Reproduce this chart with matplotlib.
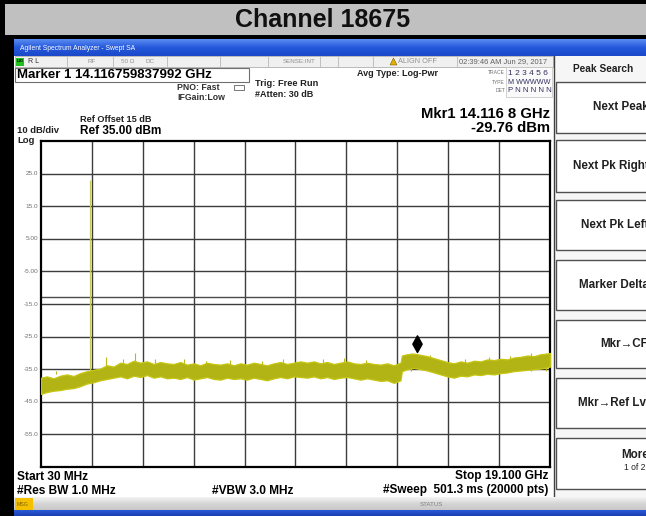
import numpy as np
import matplotlib
matplotlib.use("Agg")
import matplotlib.pyplot as plt
from matplotlib.patches import Rectangle, Polygon
from matplotlib.path import Path
from matplotlib.markers import MarkerStyle
from matplotlib.colors import LinearSegmentedColormap

plt.rcParams['font.family'] = ['Liberation Sans', 'DejaVu Sans']

# ---------------- sweep data ----------------
start_ghz = 0.03
stop_ghz = 19.1
ref_level = 35.0
db_per_div = 10.0
display_line = -13.0

freq_ghz = [0.03, 0.25, 0.50, 0.75, 1.00, 1.25, 1.50, 1.75, 2.00, 2.25,
            2.50, 2.75, 3.00, 3.25, 3.50, 3.75, 4.00, 4.25, 4.50, 4.75,
            5.00, 5.25, 5.50, 5.75, 6.00, 6.25, 6.50, 6.75, 7.00, 7.25,
            7.50, 7.75, 8.00, 8.25, 8.50, 8.75, 9.00, 9.25, 9.50, 9.75,
            10.00, 10.25, 10.50, 10.75, 11.00, 11.25, 11.50, 11.75, 12.00, 12.25,
            12.50, 12.75, 13.00, 13.25, 13.50, 13.55, 13.75, 14.00, 14.25, 14.50,
            14.75, 15.00, 15.25, 15.50, 15.75, 16.00, 16.25, 16.50, 16.75, 17.00,
            17.25, 17.50, 17.75, 18.00, 18.25, 18.50, 18.75, 19.00, 19.10]

trace_hi = [-37.6, -37.2, -37.8, -37.0, -36.6, -37.1, -36.2, -35.6, -35.2, -34.8,
            -33.8, -34.2, -33.0, -33.4, -32.4, -33.0, -32.6, -33.4, -32.8, -33.2,
            -33.4, -32.8, -33.6, -33.2, -33.8, -33.0, -33.4, -33.6, -33.2, -33.8,
            -33.2, -33.6, -33.0, -33.4, -33.8, -33.2, -32.8, -33.4, -33.0, -32.6,
            -33.0, -32.6, -33.2, -32.8, -33.4, -33.0, -32.6, -33.2, -33.4, -33.0,
            -33.4, -33.6, -33.2, -33.8, -33.0, -30.8, -30.4, -30.2, -30.6, -31.0,
            -31.6, -32.2, -32.8, -33.2, -32.6, -33.0, -32.4, -32.6, -32.0, -32.2,
            -31.8, -32.0, -31.4, -31.2, -30.8, -31.0, -30.4, -30.2, -30.0]

trace_lo = [-42.6, -42.0, -41.6, -41.4, -41.0, -40.8, -40.2, -39.4, -39.0, -38.4,
            -38.0, -37.6, -37.2, -37.8, -37.0, -37.4, -36.8, -37.6, -37.2, -37.8,
            -37.6, -38.0, -37.4, -38.2, -37.8, -37.4, -38.0, -38.2, -37.6, -38.0,
            -37.8, -38.2, -37.6, -38.0, -38.4, -37.8, -37.4, -37.8, -37.2, -37.4,
            -37.6, -37.2, -37.8, -37.4, -38.0, -37.6, -37.4, -37.8, -38.2, -37.8,
            -38.2, -38.6, -38.4, -39.2, -38.4, -35.6, -35.0, -34.6, -35.0, -35.4,
            -36.0, -36.6, -37.2, -37.6, -37.0, -37.2, -36.6, -36.8, -36.4, -36.6,
            -36.2, -36.0, -35.6, -35.4, -35.2, -35.0, -34.8, -34.4, -34.2]

spike_ghz = [0.60, 1.30, 2.45, 3.10, 3.55, 4.30, 5.40, 6.20, 7.10, 8.30,
             9.10, 10.60, 11.40, 12.20, 13.90, 14.60, 15.90, 16.80, 17.60, 18.40, 18.95]
spike_dbm = [-36.4, -35.6, -31.4, -32.0, -30.0, -31.8, -32.0, -32.4, -32.2, -32.4,
             -31.8, -31.8, -31.6, -32.2, -29.9, -30.6, -31.8, -31.2, -30.8, -30.0, -29.9]

carrier_ghz = 1.8575
carrier_dbm = 23.1

marker_ghz = 14.1168
marker_dbm = -29.76

y_labels = ["25.0", "15.0", "5.00", "-5.00", "-15.0", "-25.0", "-35.0", "-45.0", "-55.0"]

softkeys = ["Next Peak", "Next Pk Right", "Next Pk Left", "Marker Delta",
            "Mkr\u2192CF", "Mkr\u2192Ref Lvl"]

# ---------------- canvas in pixel units ----------------
W, H = 646, 516
fig = plt.figure(figsize=(W / 100, H / 100), dpi=100)
fig.patch.set_facecolor('white')
bg = fig.add_axes([0, 0, 1, 1])
bg.axis('off')


def rect(x0, y0, x1, y1, fc, ec='none', lw=0.0, z=1):
    bg.add_patch(Rectangle((x0, y0), x1 - x0, y1 - y0, facecolor=fc,
                           edgecolor=ec, linewidth=lw, zorder=z))


def txt(x, y, s, size, weight='bold', ha='left', color='black', z=5, **kw):
    bg.text(x, y, s, fontsize=size, fontweight=weight, ha=ha, va='center',
            color=color, zorder=z, **kw)


def gradient(x0, y0, x1, y1, colors, z=2):
    cm = LinearSegmentedColormap.from_list('g', colors)
    bg.imshow(np.linspace(0, 1, 32).reshape(-1, 1), cmap=cm, aspect='auto',
              extent=(x0, x1, y1, y0), origin='upper', zorder=z,
              interpolation='bilinear')


# outer frame and caption band
rect(0, 0, W, H, 'black', z=0)
rect(5, 4, W, 35, '#c0c0c0', z=1)
txt(323, 20, "Channel 18675", 18, ha='center', color='#101010')

# instrument screen
rect(14, 39, W, 512, 'white', z=1)
gradient(14, 39, W, 56, ['#5a8cf0', '#2458dc', '#1a48c8'])
txt(20, 48, "Agilent Spectrum Analyzer - Swept SA", 4.9, weight='normal', color='white')
gradient(14, 510, W, H, ['#2a5ad8', '#1a3fb0'])

# status row under the title bar
rect(15, 56, 553, 67, '#f0f0f0', ec='#b0b0b0', lw=0.6, z=2)
for xs in [67, 113, 167, 220, 268, 320, 338, 373, 457]:
    bg.plot([xs, xs], [56, 67], color='#b8b8b8', lw=0.6, zorder=3)
rect(16, 57.5, 24, 65.5, '#20c020', z=4)
txt(17, 61.5, "LXI", 3.2, color='black')
txt(28, 61.5, "R L", 5, weight='normal', color='#303030')
txt(88, 61.5, "RF", 4.5, weight='normal', color='#909090')
txt(121, 61.5, "50 \u03a9", 4.5, weight='normal', color='#909090')
txt(145, 61.5, "DC", 4.5, weight='normal', color='#909090')
txt(283, 61.5, "SENSE:INT", 4.5, weight='normal', color='#909090')
bg.add_patch(Polygon([[390, 65], [397, 65], [393.5, 58]], closed=True,
                     facecolor='#e0b000', edgecolor='#806000', lw=0.4, zorder=4))
txt(398, 61.5, "ALIGN OFF", 5.3, weight='normal', color='#909090')
txt(459, 61.5, "02:39:46 AM Jun 29, 2017", 5.4, weight='normal', color='#606060')

# marker readout box
rect(15, 68, 249, 82, 'white', ec='#707070', lw=0.8, z=2)
txt(17, 75.5, "Marker 1 14.116759837992 GHz", 9.5)

txt(177, 88, "PNO: Fast", 6.3, color='#303030')
txt(177, 97, "IFGain:Low", 6.3, color='#303030')
bg.add_patch(Rectangle((234, 85), 10, 5, facecolor='none', edgecolor='#606060',
                       lw=0.6, zorder=4))
txt(255, 84, "Trig: Free Run", 6.7, color='#202020')
txt(255, 94.5, "#Atten: 30 dB", 6.5, color='#202020')
txt(357, 73, "Avg Type: Log-Pwr", 6.5, color='#202020')

# trace table
rect(506, 67, 552, 97, '#fafafa', ec='#c0c0c0', lw=0.5, z=2)
txt(505, 73, "TRACE", 3.6, weight='normal', ha='right', color='#707070')
txt(505, 82, "TYPE", 3.6, weight='normal', ha='right', color='#707070')
txt(505, 91, "DET", 3.6, weight='normal', ha='right', color='#707070')
txt(508, 73.5, "1 2 3 4 5 6", 6.0, weight='normal', color='#303060')
txt(508, 82, "M WWWWW", 5.2, weight='normal', color='#303060')
txt(508, 91, "P N N N N N", 5.6, weight='normal', color='#303060')

txt(550, 114, "Mkr1 14.116 8 GHz", 10.7, ha='right')
txt(550, 128, "-29.76 dBm", 10.7, ha='right')

txt(80, 120, "Ref Offset 15 dB", 6.6, color='#202020')
txt(80, 131, "Ref 35.00 dBm", 8.5)
txt(17, 130.5, "10 dB/div", 6.8, color='#202020')
txt(17, 140.5, "Log", 6.8, color='#202020')

# softkey panel
bg.plot([553.5, 553.5], [56, 497], color='#404040', lw=1.0, zorder=3)
rect(554, 56, W, 497, '#f6f6f6', z=2)
txt(573, 69, "Peak Search", 7.3, color='#202020')
key_tops = [82, 140, 200, 260, 320, 378]
key_bots = [133, 192, 250, 310, 368, 428]
key_x = [593, 573, 581, 579, 600, 578]
for top, bot, label, kx in zip(key_tops, key_bots, softkeys, key_x):
    rect(556, top, W + 6, bot, 'white', ec='#505050', lw=1.0, z=3)
    txt(kx, (top + bot) / 2, label, 8.4, color='#202020')
rect(556, 438, W + 6, 489, 'white', ec='#505050', lw=1.0, z=3)
txt(621, 455, "More", 8.4, color='#202020')
txt(624, 468, "1 of 2", 6.2, weight='normal', color='#202020')

# bottom annotations and status bar
txt(17, 476.5, "Start 30 MHz", 8.6)
txt(17, 490.5, "#Res BW 1.0 MHz", 8.6)
txt(212, 490.5, "#VBW 3.0 MHz", 8.6)
txt(548, 476.5, "Stop 19.100 GHz", 8.6, ha='right')
txt(548, 490.5, "#Sweep  501.3 ms (20000 pts)", 8.5, ha='right')
gradient(14, 497, W, 510, ['#f4f4f4', '#d6d6d6', '#c8c8c8'], z=3)
rect(15, 498, 33, 510, '#f4c000', z=4)
txt(17, 504, "MSG", 3.8, weight='normal', color='#806000')
txt(431, 504, "STATUS", 4.4, weight='normal', color='#808080', ha='center')

# y-axis scale labels
top_px, bot_px = 141.0, 467.0
for i, lab in enumerate(y_labels, start=1):
    txt(38, top_px + i * (bot_px - top_px) / 10, lab, 4.6, weight='normal',
        ha='right', color='#707070')

bg.set_xlim(0, W)
bg.set_ylim(H, 0)

# ---------------- measurement graticule ----------------
ax = fig.add_axes([41 / W, (H - bot_px) / H, (550 - 41) / W, (bot_px - top_px) / H])
ax.set_facecolor('white')
ax.set_xlim(start_ghz, stop_ghz)
ax.set_ylim(ref_level - 10 * db_per_div, ref_level)
ax.set_xticks([])
ax.set_yticks([])
for s in ax.spines.values():
    s.set_color('black')
    s.set_linewidth(1.6)
for i in range(1, 10):
    ax.axvline(start_ghz + i * (stop_ghz - start_ghz) / 10, color='#3c3c3c', lw=1.0, zorder=1)
    ax.axhline(ref_level - i * db_per_div, color='#3c3c3c', lw=1.0, zorder=1)
ax.axhline(display_line, color='#4a4a4a', lw=1.0, zorder=1)
bg.text(548, 293, "-13.00 dBm", fontsize=3.8, ha='right', va='center', color='#606060', zorder=6)

# carrier and noise floor
ax.vlines(carrier_ghz, -37.0, carrier_dbm, color='#c8cc5a', lw=0.9, zorder=2)
ax.vlines(spike_ghz, [-35.5] * len(spike_ghz), spike_dbm, color='#b8b81c', lw=0.8, zorder=3)
ax.fill_between(freq_ghz, trace_lo, trace_hi, facecolor='#b2b416',
                edgecolor='#c6c612', lw=0.9, zorder=3)

# marker 1
tip = Path([(0, 0), (0.28, 0.5), (0, 1.0), (-0.28, 0.5), (0, 0)],
           [Path.MOVETO, Path.LINETO, Path.LINETO, Path.LINETO, Path.CLOSEPOLY])
ax.plot([marker_ghz], [marker_dbm], marker=MarkerStyle(tip), ms=24,
        color='black', mec='black', zorder=5, linestyle='none')
bg.text(424, 337, "1", fontsize=6, ha='left', va='center', color='black', zorder=6)

fig.savefig("out.png", dpi=100)
